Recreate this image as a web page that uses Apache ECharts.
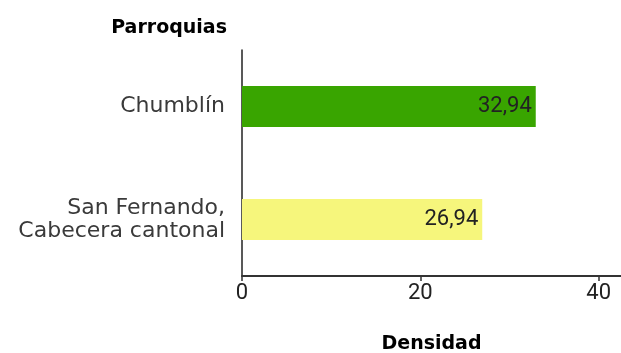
<!DOCTYPE html>
<html>
<head>
<meta charset="utf-8">
<script src="https://cdn.jsdelivr.net/npm/echarts@6/dist/echarts.min.js"></script>
<style>
  html, body { margin: 0; padding: 0; background: #fff; }
  #chart { width: 621px; height: 353px; }
</style>
</head>
<body>
<div id="chart"></div>
<script>
// Population density by parish
const parroquias = ['Chumblín', 'San Fernando,\nCabecera cantonal'];
const densidad = [32.94, 26.94];
const barColors = ['#39a500', '#f6f67c'];
const xTicks = [0, 20, 40];

const chart = echarts.init(document.getElementById('chart'), null, { renderer: 'canvas' });

const fmt = v => v.toFixed(2).replace('.', ',');

chart.setOption({
  animation: false,
  grid: { left: 242, right: 0, top: 50, bottom: 77, containLabel: false, outerBoundsMode: 'none' },
  xAxis: {
    type: 'value',
    min: xTicks[0],
    max: 42.5,
    interval: xTicks[1] - xTicks[0],
    name: 'Densidad',
    nameLocation: 'middle',
    nameGap: 59,
    nameTextStyle: { fontFamily: 'DejaVu Sans', fontWeight: 'bold', fontSize: 19, color: '#000' },
    axisLine: { show: true, lineStyle: { color: '#333', width: 2 } },
    axisTick: { show: true, length: 5, lineStyle: { color: '#333', width: 1.5 } },
    axisLabel: {
      margin: 6,
      fontFamily: 'Roboto', fontSize: 22, color: '#222',
      showMaxLabel: false,
      formatter: v => (xTicks.includes(v) ? String(v) : '')
    },
    splitLine: { show: false }
  },
  yAxis: {
    type: 'category',
    inverse: true,
    data: parroquias,
    name: 'Parroquias',
    // axis is inverted, so its start sits at the top
    nameLocation: 'start',
    nameGap: 12,
    nameTextStyle: {
      fontFamily: 'DejaVu Sans', fontWeight: 'bold', fontSize: 19, color: '#000',
      align: 'right', verticalAlign: 'bottom', padding: [0, 15, 0, 0]
    },
    axisLine: { show: true, lineStyle: { color: '#222', width: 1.5 } },
    axisTick: { show: false },
    axisLabel: {
      margin: 17,
      fontFamily: 'DejaVu Sans', fontSize: 22, color: '#3a3a3a', lineHeight: 23,
      align: 'right'
    }
  },
  series: [{
    type: 'bar',
    barWidth: 41,
    data: densidad.map((v, i) => ({ value: v, itemStyle: { color: barColors[i] } })),
    label: {
      show: true,
      position: 'insideRight',
      distance: 4,
      fontFamily: 'Roboto', fontSize: 22, color: '#222',
      formatter: p => fmt(p.value)
    }
  }]
});
</script>
</body>
</html>
